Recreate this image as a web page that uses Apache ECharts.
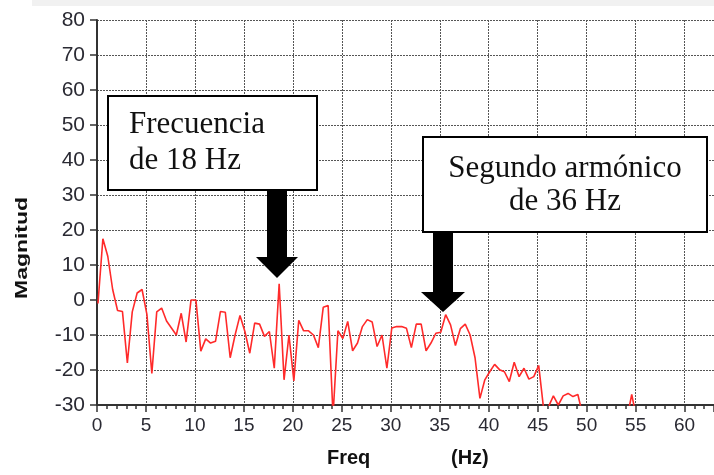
<!DOCTYPE html>
<html>
<head>
<meta charset="utf-8">
<script src="https://cdn.jsdelivr.net/npm/echarts@6/dist/echarts.min.js"></script>
<style>
html,body{margin:0;padding:0;background:#fff;}
#chart{width:714px;height:475px;}
</style>
</head>
<body>
<div id="chart"></div>
<script>
// Frequency bins (Hz)
var freqHz = [0.1,0.6,1.1,1.6,2.1,2.6,3.1,3.6,4.1,4.6,5.1,5.6,6.1,6.6,7.1,7.6,8.1,8.6,9.1,9.6,
  10.1,10.6,11.1,11.6,12.1,12.6,13.1,13.6,14.1,14.6,15.1,15.6,16.1,16.6,17.1,17.6,18.1,18.6,19.1,19.6,
  20.1,20.6,21.1,21.6,22.1,22.6,23.1,23.6,24.1,24.6,25.1,25.6,26.1,26.6,27.1,27.6,28.1,28.6,29.1,29.6,
  30.1,30.6,31.1,31.6,32.1,32.6,33.1,33.6,34.1,34.6,35.1,35.6,36.1,36.6,37.1,37.6,38.1,38.6,39.1,39.6,
  40.1,40.6,41.1,41.6,42.1,42.6,43.1,43.6,44.1,44.6,45.1,45.6,46.1,46.6,47.1,47.6,48.1,48.6,49.1,49.6,
  50.1,50.6,51.1,51.6,52.1,52.6,53.1,53.6,54.1,54.6,55.1,55.6,56.1,56.6,57.1,57.6,58.1,58.6,59.1,59.6,
  60.1,60.6,61.1,61.6,62.1,62.6];
// Magnitude values
var magnitud = [-1,17.5,12.5,3,-3,-3.3,-18,-3.4,2,3,-4.2,-21,-3.4,-2.3,-6,-8,-10,-3.8,-12,0,
  0,-14.6,-11.1,-12.3,-11.8,-3.3,-3.5,-16.5,-10,-4.4,-9,-15.2,-6.6,-6.9,-10.4,-9,-19.5,4.6,-22.8,-10,
  -23.1,-5.8,-8.8,-8.8,-10,-13.6,-2.1,-1.6,-33,-8.8,-11,-6.1,-14.5,-12.3,-7.6,-5.6,-6.3,-13.3,-10,-19.5,
  -8,-7.6,-7.6,-8.1,-13.6,-6.9,-6.9,-14.5,-12.3,-9.5,-9.2,-4.2,-7.1,-13,-8.2,-6.9,-10,-16.5,-28.1,-22.8,
  -20.5,-18.4,-19.9,-20.5,-23.3,-17.8,-21.9,-19.5,-22.6,-21.9,-18.7,-31,-30.5,-27.4,-30,-27.4,-26.7,-27.6,-27,-33,
  -36,-34,-37,-35,-38,-36,-35,-37,-34,-27,-34,-36,-38,-35,-37,-36,-39,-35,-37,-38,
  -36,-39,-37,-38,-36,-39];
var xTicks = {min: 0, max: 63, interval: 5};
var yTicks = {min: -30, max: 80, interval: 10};
var yAxisTitle = 'Magnitud';
var xAxisTitleA = 'Freq';
var xAxisTitleB = '(Hz)';
var note1 = 'Frecuencia\nde 18 Hz';
var note2a = 'Segundo armónico';
var note2b = 'de 36 Hz';

var seriesData = freqHz.map(function (f, i) { return [f, magnitud[i]]; });

var chart = echarts.init(document.getElementById('chart'), null, {renderer: 'canvas'});
var labelColor = '#2a2a33';
var gridLine = {show: true, lineStyle: {color: '#555', width: 1, type: [2, 1]}};
var serif = '"Liberation Serif", "Times New Roman", serif';
var sans = '"Liberation Sans", Arial, sans-serif';

chart.setOption({
  animation: false,
  backgroundColor: '#fff',
  grid: {left: 97, top: 20, right: 0, bottom: 70, containLabel: false},
  xAxis: {
    type: 'value', min: xTicks.min, max: xTicks.max, interval: xTicks.interval,
    axisLine: {show: true, onZero: false, lineStyle: {color: '#333', width: 2}},
    axisTick: {show: true, length: 7, lineStyle: {color: '#333', width: 1.5}},
    minorTick: {show: true, splitNumber: 5, length: 4, lineStyle: {color: '#333', width: 1.5}},
    axisLabel: {color: labelColor, fontFamily: sans, fontSize: 19, margin: 11, showMaxLabel: false},
    splitLine: gridLine
  },
  yAxis: {
    type: 'value', min: yTicks.min, max: yTicks.max, interval: yTicks.interval,
    axisLine: {show: true, onZero: false, lineStyle: {color: '#333', width: 2}},
    axisTick: {show: true, length: 7, lineStyle: {color: '#333', width: 1.5}},
    axisLabel: {color: labelColor, fontFamily: sans, fontSize: 21, margin: 12},
    splitLine: gridLine
  },
  series: [{
    type: 'line', data: seriesData, showSymbol: false, clip: true,
    lineStyle: {color: '#ff2a2a', width: 1.6},
    z: 3
  }],
  graphic: [
    {type: 'rect', left: 32, top: 0, shape: {width: 682, height: 6}, style: {fill: '#f1f1f1'}, z: 0, silent: true},
    {type: 'text', x: 22, y: 248, rotation: Math.PI / 2, scaleX: 1.35,
      style: {text: yAxisTitle, font: 'bold 17px ' + sans, fill: '#111', align: 'center', verticalAlign: 'middle'}},
    {type: 'text', x: 327, y: 458,
      style: {text: xAxisTitleA, font: 'bold 20px ' + sans, fill: '#111', align: 'left', verticalAlign: 'middle'}},
    {type: 'text', x: 451, y: 458,
      style: {text: xAxisTitleB, font: 'bold 20px ' + sans, fill: '#111', align: 'left', verticalAlign: 'middle'}},
    // Annotation 1
    {type: 'rect', shape: {x: 108, y: 96, width: 209, height: 94}, style: {fill: '#fff', stroke: '#000', lineWidth: 2}, z: 10},
    {type: 'text', x: 129, y: 125, z: 11,
      style: {text: 'Frecuencia', font: '31px ' + serif, fill: '#111', align: 'left', verticalAlign: 'middle'}},
    {type: 'text', x: 129, y: 161, z: 11,
      style: {text: 'de 18 Hz', font: '31px ' + serif, fill: '#111', align: 'left', verticalAlign: 'middle'}},
    {type: 'polygon', z: 10, shape: {points: [[267,190],[287,190],[287,257],[298,257],[277,278],[256,257],[267,257]]}, style: {fill: '#000'}},
    // Annotation 2
    {type: 'rect', shape: {x: 423, y: 137, width: 284, height: 95}, style: {fill: '#fff', stroke: '#000', lineWidth: 2}, z: 10},
    {type: 'text', x: 565, y: 169, z: 11,
      style: {text: note2a, font: '31px ' + serif, fill: '#111', align: 'center', verticalAlign: 'middle'}},
    {type: 'text', x: 565, y: 202, z: 11,
      style: {text: note2b, font: '31px ' + serif, fill: '#111', align: 'center', verticalAlign: 'middle'}},
    {type: 'polygon', z: 10, shape: {points: [[433,231],[453,231],[453,292],[465,292],[443,312],[421,292],[433,292]]}, style: {fill: '#000'}}
  ]
});
</script>
</body>
</html>
